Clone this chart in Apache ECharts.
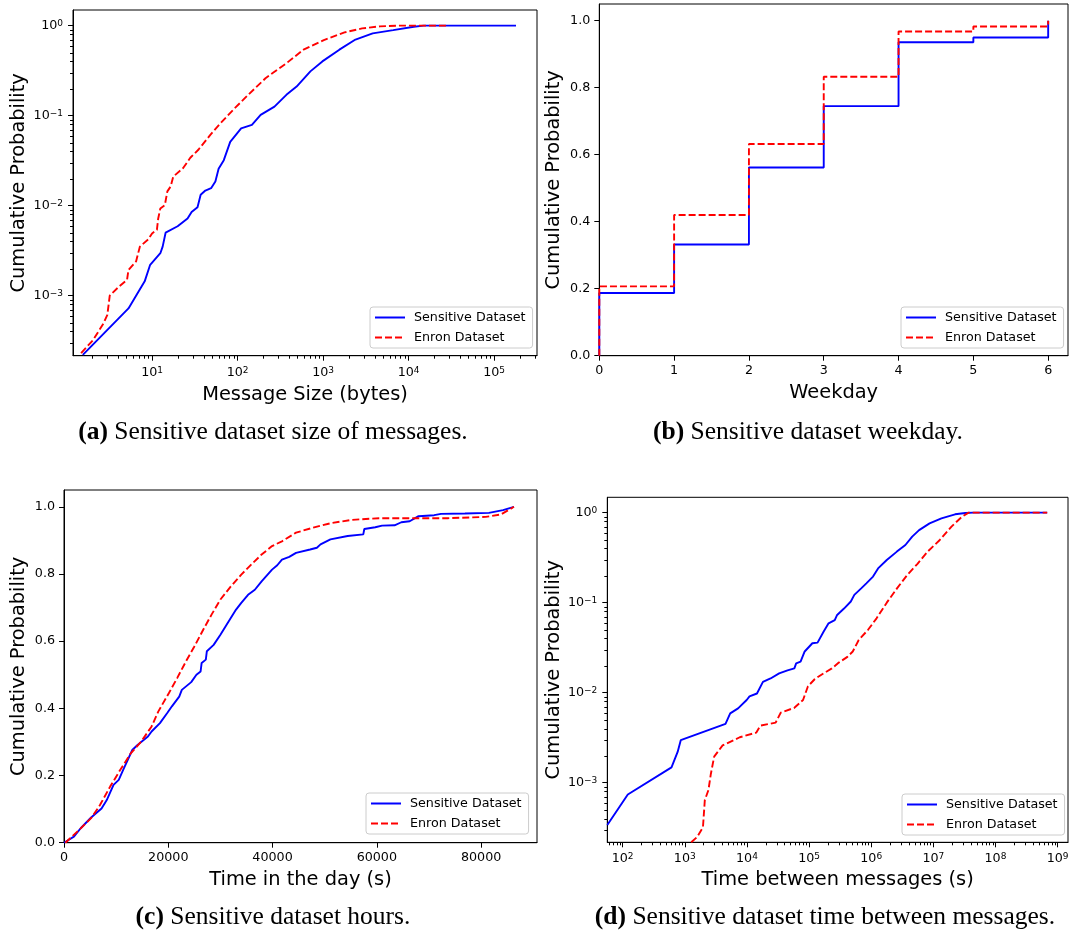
<!DOCTYPE html>
<html>
<head>
<meta charset="utf-8">
<script src="https://cdn.jsdelivr.net/npm/echarts@6/dist/echarts.min.js"></script>
<style>
html,body{margin:0;padding:0;background:#fff;}
#chart{width:1073px;height:935px;}
</style>
</head>
<body>
<div id="chart"></div>
<script>
// ---------- DATA ----------
const seriesNames = ['Sensitive Dataset', 'Enron Dataset'];

// (a) message size CDF (log-log)
const sizeSensX = [1.55, 5.3, 8.2, 9.5, 12.5, 13.3, 14.4, 19.9, 26, 29, 34, 37, 42, 49, 55, 60, 69, 82, 110, 147, 186, 270, 372, 490, 710, 980, 1550, 2390, 3800, 6600, 11500, 15000, 180000];
const sizeSensY = [2.2e-4, 7.2e-4, 1.44e-3, 2.2e-3, 2.96e-3, 3.5e-3, 5.0e-3, 5.9e-3, 7.2e-3, 8.5e-3, 9.6e-3, 0.0132, 0.0147, 0.0156, 0.0185, 0.0257, 0.032, 0.051, 0.072, 0.079, 0.102, 0.126, 0.17, 0.21, 0.31, 0.40, 0.54, 0.70, 0.82, 0.89, 0.97, 1.0, 1.0];
const sizeEnronX = [1.48, 2.04, 2.7, 3.0, 3.2, 4.1, 5.1, 5.3, 6.5, 7.2, 9.0, 10, 11.4, 11.8, 12.5, 14.1, 15.1, 16.5, 17.7, 23, 28, 35, 48, 63, 92, 133, 212, 370, 590, 1020, 1780, 2860, 4600, 8000, 29000];
const sizeEnronY = [2.3e-4, 3.2e-4, 4.9e-4, 6.1e-4, 1.0e-3, 1.26e-3, 1.5e-3, 1.93e-3, 2.4e-3, 3.5e-3, 4.2e-3, 4.9e-3, 5.4e-3, 7.2e-3, 9.3e-3, 0.0101, 0.0144, 0.0163, 0.021, 0.026, 0.034, 0.042, 0.061, 0.082, 0.12, 0.17, 0.26, 0.38, 0.54, 0.69, 0.84, 0.93, 0.98, 1.0, 1.0];

// (b) weekday CDF (steps)
const weekdays = [0, 1, 2, 3, 4, 5, 6];
const weekdaySens = [0.187, 0.332, 0.562, 0.745, 0.936, 0.950, 1.0];
const weekdayEnron = [0.207, 0.420, 0.632, 0.833, 0.968, 0.983, 1.0];

// (c) time in the day CDF
const hourSensX = [0, 1900, 3200, 5200, 7200, 8200, 9500, 10500, 11500, 13100, 14100, 16100, 16800, 18400, 19800, 20700, 22100, 22600, 24400, 25400, 26200, 26400, 27200, 27400, 28700, 30000, 31600, 33000, 34000, 35300, 36600, 37900, 39900, 40900, 41800, 43200, 44500, 47200, 48500, 49200, 51100, 54400, 57400, 57600, 59700, 61000, 63400, 64700, 66300, 68000, 71000, 72300, 76900, 81500, 84200, 86300];
const hourSensY = [0, 0.018, 0.043, 0.075, 0.102, 0.127, 0.172, 0.187, 0.222, 0.276, 0.291, 0.316, 0.331, 0.356, 0.386, 0.406, 0.435, 0.455, 0.478, 0.50, 0.51, 0.535, 0.545, 0.570, 0.589, 0.619, 0.659, 0.694, 0.714, 0.738, 0.753, 0.778, 0.813, 0.826, 0.843, 0.851, 0.863, 0.873, 0.878, 0.888, 0.903, 0.913, 0.918, 0.934, 0.939, 0.944, 0.945, 0.954, 0.957, 0.972, 0.975, 0.979, 0.980, 0.982, 0.990, 1.0];
const hourEnronX = [260, 2900, 5200, 6900, 8850, 10800, 12800, 14800, 16800, 18100, 20100, 21700, 23400, 25000, 26700, 28300, 30000, 32000, 34000, 35900, 37900, 39900, 41900, 44500, 47800, 51100, 55100, 60400, 67000, 73600, 80900, 83800, 86300];
const hourEnronY = [0, 0.038, 0.073, 0.112, 0.167, 0.217, 0.266, 0.301, 0.346, 0.391, 0.445, 0.49, 0.54, 0.584, 0.634, 0.679, 0.724, 0.763, 0.798, 0.828, 0.858, 0.883, 0.898, 0.923, 0.938, 0.951, 0.961, 0.966, 0.966, 0.966, 0.970, 0.977, 1.0];

// (d) time between messages CDF (log-log)
const gapSensX = [56.6, 121, 611, 767, 861, 4520, 5380, 7200, 9900, 11000, 14500, 18100, 24000, 33000, 45000, 58000, 62000, 73000, 85000, 113000, 137000, 171000, 206000, 259000, 283000, 365000, 470000, 535000, 690000, 835000, 1.07e6, 1.29e6, 1.78e6, 2.59e6, 3.55e6, 4.57e6, 5.9e6, 8.7e6, 1.35e7, 2.24e7, 3.27e7, 4.4e7, 6.8e8];
const gapSensY = [3.4e-4, 7.4e-4, 1.48e-3, 2.2e-3, 2.97e-3, 4.5e-3, 5.9e-3, 6.7e-3, 8.3e-3, 9.1e-3, 9.8e-3, 0.0132, 0.0144, 0.0164, 0.0177, 0.0186, 0.0212, 0.0221, 0.0287, 0.0354, 0.036, 0.0476, 0.059, 0.064, 0.073, 0.086, 0.103, 0.122, 0.144, 0.164, 0.195, 0.24, 0.298, 0.369, 0.437, 0.541, 0.64, 0.76, 0.865, 0.958, 0.99, 1.0, 1.0];
const gapEnronX = [1270, 1580, 1960, 2100, 2400, 2630, 2970, 4060, 7670, 14100, 16400, 29000, 35000, 58000, 80000, 96000, 124000, 171000, 233000, 301000, 414000, 505000, 630000, 890000, 1.22e6, 1.78e6, 2.6e6, 3.8e6, 5.56e6, 8.1e6, 1.27e7, 1.96e7, 2.88e7, 3.7e7, 6.8e8];
const gapEnronY = [2.18e-4, 2.5e-4, 3.2e-4, 6.4e-4, 8.3e-4, 1.26e-3, 1.95e-3, 2.6e-3, 3.2e-3, 3.6e-3, 4.3e-3, 4.65e-3, 6.0e-3, 6.8e-3, 8.3e-3, 0.0118, 0.0142, 0.0164, 0.0186, 0.0216, 0.025, 0.0287, 0.0385, 0.05, 0.067, 0.1, 0.144, 0.203, 0.27, 0.369, 0.497, 0.70, 0.90, 1.0, 1.0];

// texts
const xTitles = ['Message Size (bytes)', 'Weekday', 'Time in the day (s)', 'Time between messages (s)'];
const yTitle = 'Cumulative Probability';
const captionTags = ['(a)', '(b)', '(c)', '(d)'];
const captionTexts = ['Sensitive dataset size of messages.', 'Sensitive dataset weekday.', 'Sensitive dataset hours.', 'Sensitive dataset time between messages.'];

// tick values
const probTicks = [0, 0.2, 0.4, 0.6, 0.8, 1.0];
const weekdayTicks = [0, 1, 2, 3, 4, 5, 6];
const hourTicks = [0, 20000, 40000, 60000, 80000];

// axis ranges
const aX = [1.19, 3.17e5], aY = [2.15e-4, 1.49];
const bX = [0, 6.265], bY = [0, 1.05];
const cX = [0, 90720], cY = [0, 1.05];
const dX = [56.6, 1.47e9], dY = [2.18e-4, 1.48];

// ---------- HELPERS ----------
const FONT = 'DejaVu Sans';
const SERIF = 'Liberation Serif';
const BLUE = '#0000ff', RED = '#ff0000';
const zip = (xs, ys) => xs.map((x, i) => [x, ys[i]]);

function logLabel(v) {
  const l = Math.log10(v);
  const e = Math.round(l);
  if (Math.abs(l - e) > 1e-6) return '';
  return '{b|10}{s|' + (e < 0 ? '\u2212' + (-e) : String(e)) + '}';
}
const logRich = {
  b: { fontFamily: FONT, fontSize: 12.7, color: '#000' },
  s: { fontFamily: FONT, fontSize: 9, color: '#000', verticalAlign: 'top' }
};
function decades(min, max) {
  const out = [];
  for (let k = Math.ceil(Math.log10(min) - 1e-9); k <= Math.floor(Math.log10(max) + 1e-9); k++) out.push(Math.pow(10, k));
  return out;
}
function minorTicks(min, max) {
  const out = [];
  for (let k = Math.floor(Math.log10(min)); k <= Math.ceil(Math.log10(max)); k++) {
    for (let m = 2; m <= 9; m++) {
      const v = m * Math.pow(10, k);
      if (v > min && v < max) out.push(v);
    }
  }
  return out;
}

function baseAxis(extra) {
  return Object.assign({
    nameLocation: 'middle',
    nameTextStyle: { color: '#000', fontFamily: FONT, fontSize: 19.4 },
    axisLine: { show: true, onZero: false, lineStyle: { color: '#000', width: 1 } },
    splitLine: { show: false },
    minorTick: { show: false },
  }, extra);
}
function logAxis(gridIndex, range, name, nameGap, margin) {
  const ticks = decades(range[0], range[1]);
  return baseAxis({
    type: 'log', logBase: 10, gridIndex, min: range[0], max: range[1], name, nameGap,
    axisTick: { show: true, inside: false, length: 5, customValues: ticks, lineStyle: { color: '#000', width: 1 } },
    axisLabel: { color: '#000', margin, customValues: ticks, formatter: logLabel, rich: logRich, fontFamily: FONT, fontSize: 12.7 }
  });
}
function linAxis(gridIndex, range, interval, ticks, fmt, name, nameGap, margin) {
  return baseAxis({
    type: 'value', gridIndex, min: range[0], max: range[1], interval, name, nameGap,
    axisTick: { show: true, inside: false, length: 5, customValues: ticks, lineStyle: { color: '#000', width: 1 } },
    axisLabel: { color: '#000', margin, customValues: ticks, fontFamily: FONT, fontSize: 12.7, formatter: fmt }
  });
}
const fmtProb = v => (Math.abs(v * 5 - Math.round(v * 5)) < 1e-6 ? v.toFixed(1) : '');
const fmtInt = v => (Math.abs(v - Math.round(v)) < 1e-6 ? String(Math.round(v)) : '');
const fmt20k = v => (Math.abs(v / 20000 - Math.round(v / 20000)) < 1e-6 ? String(Math.round(v)) : '');

function lineSeries(name, xi, data, color, dashed, step) {
  return {
    type: 'line', name, xAxisIndex: xi, yAxisIndex: xi, data,
    symbol: 'none', showSymbol: false, step: step || false,
    lineStyle: { color, width: 1.9, type: dashed ? [7, 3] : 'solid' },
    itemStyle: { color }, silent: true, z: dashed ? 3 : 2
  };
}
function minorX(idx, xr, yr) {
  return {
    type: 'custom', xAxisIndex: idx, yAxisIndex: idx, silent: true, z: 5,
    data: minorTicks(xr[0], xr[1]).map(v => [v, yr[0]]),
    renderItem: (params, api) => {
      const p = api.coord([api.value(0), api.value(1)]);
      const x = Math.round(p[0]) + 0.5;
      return { type: 'line', shape: { x1: x, y1: p[1], x2: x, y2: p[1] + 3 }, style: { stroke: '#000', lineWidth: 1 } };
    }
  };
}
function minorY(idx, xr, yr) {
  return {
    type: 'custom', xAxisIndex: idx, yAxisIndex: idx, silent: true, z: 5,
    data: minorTicks(yr[0], yr[1]).map(v => [xr[0], v]),
    renderItem: (params, api) => {
      const p = api.coord([api.value(0), api.value(1)]);
      const y = Math.round(p[1]) + 0.5;
      return { type: 'line', shape: { x1: p[0], y1: y, x2: p[0] - 3, y2: y }, style: { stroke: '#000', lineWidth: 1 } };
    }
  };
}
function legendAt(left, top) {
  return {
    left, top, orient: 'vertical', data: seriesNames,
    itemWidth: 30, itemHeight: 12, itemGap: 7,
    padding: [4, 7, 4, 4],
    borderColor: '#cccccc', borderWidth: 1, borderRadius: 3,
    backgroundColor: 'rgba(255,255,255,0.8)',
    itemStyle: { opacity: 0, borderWidth: 0 },
    textStyle: { color: '#000', fontFamily: FONT, fontSize: 12.7, padding: [0, 0, 0, 4] },
    selectedMode: false
  };
}
function caption(i, x, y) {
  return {
    type: 'text', x, y, silent: true,
    style: {
      text: '{t|' + captionTags[i] + '} ' + captionTexts[i],
      fontFamily: SERIF, fontSize: 25.5, fill: '#000',
      align: 'center', verticalAlign: 'middle', textAlign: 'center', textVerticalAlign: 'middle',
      rich: { t: { fontFamily: SERIF, fontSize: 25.5, fontWeight: 'bold', fill: '#000', color: '#000' } }
    }
  };
}

// ---------- OPTION ----------
const gridStyle = { show: true, borderColor: '#000', borderWidth: 1, backgroundColor: 'transparent', containLabel: false };
const option = {
  animation: false,
  backgroundColor: '#fff',
  grid: [
    Object.assign({ left: 73, top: 10, width: 464, height: 345.7 }, gridStyle),
    Object.assign({ left: 599.3, top: 4, width: 468.7, height: 351.7 }, gridStyle),
    Object.assign({ left: 64, top: 490, width: 473, height: 352.7 }, gridStyle),
    Object.assign({ left: 607.3, top: 497.3, width: 460.7, height: 345 }, gridStyle)
  ],
  xAxis: [
    logAxis(0, aX, xTitles[0], 30, 10),
    linAxis(1, bX, 1, weekdayTicks, fmtInt, xTitles[1], 28, 8),
    linAxis(2, cX, 20000, hourTicks, fmt20k, xTitles[2], 28, 8),
    logAxis(3, dX, xTitles[3], 28, 10)
  ],
  yAxis: [
    Object.assign(logAxis(0, aY, yTitle, 45, 10), { nameRotate: 90 }),
    Object.assign(linAxis(1, bY, 0.2, probTicks, fmtProb, yTitle, 36, 9), { nameRotate: 90 }),
    Object.assign(linAxis(2, cY, 0.2, probTicks, fmtProb, yTitle, 36, 9), { nameRotate: 90 }),
    Object.assign(logAxis(3, dY, yTitle, 44, 10), { nameRotate: 90 })
  ],
  legend: [legendAt(370, 307), legendAt(901, 307), legendAt(366, 793), legendAt(902, 794)],
  series: [
    lineSeries(seriesNames[0], 0, zip(sizeSensX, sizeSensY), BLUE, false),
    lineSeries(seriesNames[1], 0, zip(sizeEnronX, sizeEnronY), RED, true),
    lineSeries(seriesNames[0], 1, [[0, 0]].concat(zip(weekdays, weekdaySens)), BLUE, false, 'end'),
    lineSeries(seriesNames[1], 1, [[0, 0]].concat(zip(weekdays, weekdayEnron)), RED, true, 'end'),
    lineSeries(seriesNames[0], 2, zip(hourSensX, hourSensY), BLUE, false),
    lineSeries(seriesNames[1], 2, zip(hourEnronX, hourEnronY), RED, true),
    lineSeries(seriesNames[0], 3, zip(gapSensX, gapSensY), BLUE, false),
    lineSeries(seriesNames[1], 3, zip(gapEnronX, gapEnronY), RED, true),
    minorX(0, aX, aY), minorY(0, aX, aY),
    minorX(3, dX, dY), minorY(3, dX, dY)
  ],
  graphic: [caption(0, 273, 432), caption(1, 808, 432), caption(2, 273, 917), caption(3, 825, 917)]
};

const chart = echarts.init(document.getElementById('chart'), null, { renderer: 'canvas' });
chart.setOption(option);
</script>
</body>
</html>
